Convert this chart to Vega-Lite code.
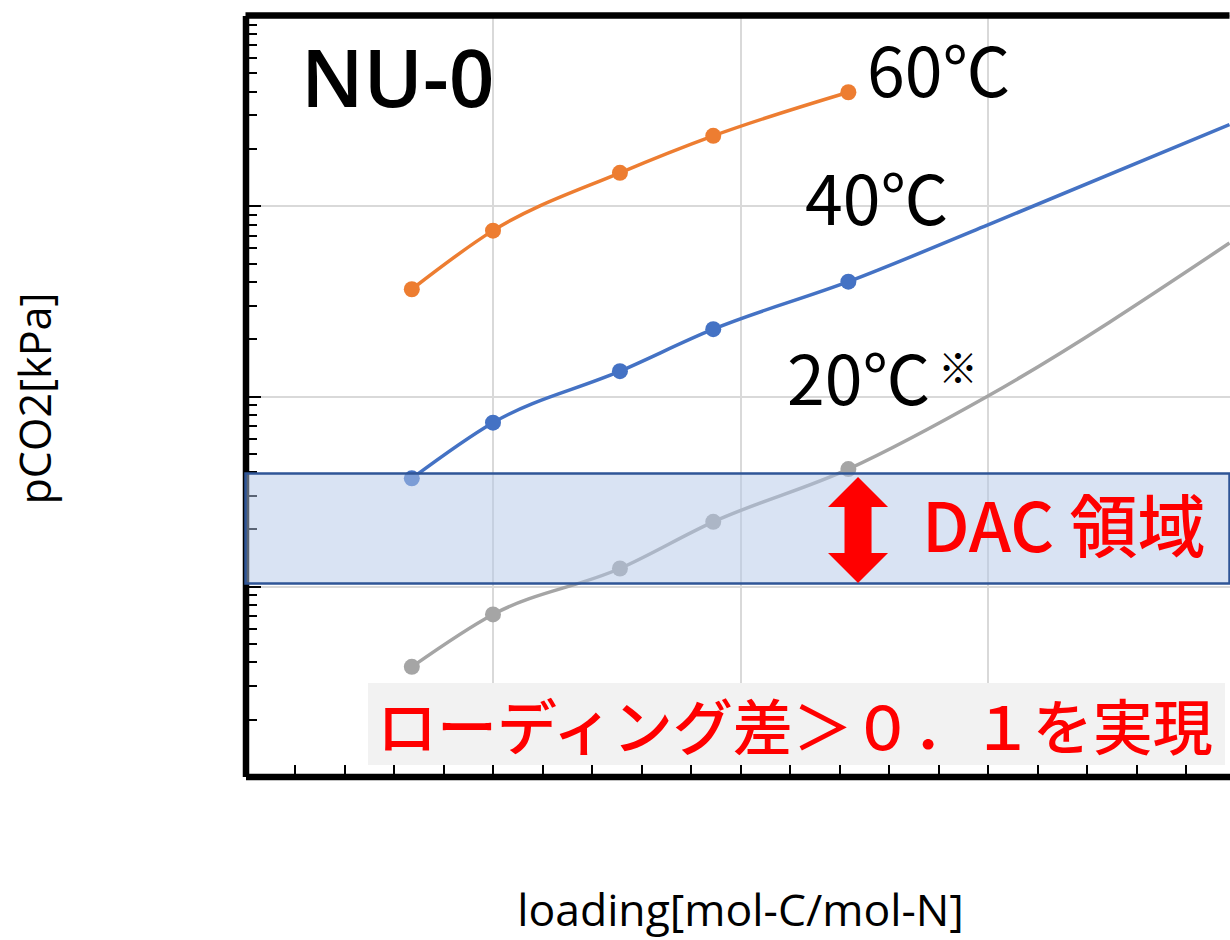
{
  "$schema": "https://vega.github.io/schema/vega-lite/v6.json",
  "autosize": {"type": "none"},
  "padding": {"left": 245.5, "top": 15.5, "right": 0, "bottom": 163.5},
  "width": 984,
  "height": 761,
  "background": "white",
  "config": {
    "view": {"stroke": null}
  },
  "datasets": {
    "curves": [
      {"series": "60", "x": 0.0672, "y": 0.364, "marker": true},
      {"series": "60", "x": 0.1, "y": 0.74, "marker": true},
      {"series": "60", "x": 0.1513, "y": 1.49, "marker": true},
      {"series": "60", "x": 0.189, "y": 2.33, "marker": true},
      {"series": "60", "x": 0.2436, "y": 3.95, "marker": true},
      {"series": "40", "x": 0.0672, "y": 0.0369, "marker": true},
      {"series": "40", "x": 0.1, "y": 0.0724, "marker": true},
      {"series": "40", "x": 0.1513, "y": 0.135, "marker": true},
      {"series": "40", "x": 0.189, "y": 0.2245, "marker": true},
      {"series": "40", "x": 0.2436, "y": 0.399, "marker": true},
      {"series": "40", "x": 0.3, "y": 0.793, "marker": false},
      {"series": "40", "x": 0.3976, "y": 2.67, "marker": false},
      {"series": "20", "x": 0.0672, "y": 0.00377, "marker": true},
      {"series": "20", "x": 0.1, "y": 0.00711, "marker": true},
      {"series": "20", "x": 0.1513, "y": 0.0124, "marker": true},
      {"series": "20", "x": 0.189, "y": 0.0218, "marker": true},
      {"series": "20", "x": 0.2436, "y": 0.0413, "marker": true},
      {"series": "20", "x": 0.3, "y": 0.1, "marker": false},
      {"series": "20", "x": 0.3976, "y": 0.637, "marker": false}
    ]
  },
  "layer": [
    {
      "data": {"values": [{"x": 0.0495, "x2": 0.3958, "y": 0.0031, "y2": 0.001148}]},
      "mark": {"type": "rect", "fill": "#f2f2f2"},
      "encoding": {
        "x": {
          "field": "x", "type": "quantitative",
          "scale": {"domain": [0, 0.3976], "nice": false, "zero": false},
          "axis": {
            "title": "loading[mol-C/mol-N]",
            "titleFont": "Open Sans", "titleFontSize": 44.5, "titleFontWeight": "normal", "titleColor": "black",
            "titleX": 494.5, "titleY": 148.5, "titleAlign": "center", "titleBaseline": "alphabetic",
            "values": [0, 0.02, 0.04, 0.06, 0.08, 0.1, 0.12, 0.14, 0.16, 0.18, 0.2, 0.22, 0.24, 0.26, 0.28, 0.3, 0.32, 0.34, 0.36, 0.38],
            "labels": false,
            "domain": true, "domainColor": "black", "domainWidth": 6.5,
            "ticks": true, "tickColor": "black", "tickWidth": 2,
            "tickSize": {"condition": {"test": "abs(datum.value*10 - round(datum.value*10)) < 0.001", "value": -16}, "value": -12},
            "grid": true, "gridColor": "#d9d9d9", "gridWidth": 2,
            "gridOpacity": {"condition": {"test": "abs(datum.value*10 - round(datum.value*10)) < 0.001", "value": 1}, "value": 0}
          }
        },
        "x2": {"field": "x2"},
        "y": {
          "field": "y", "type": "quantitative",
          "scale": {"type": "log", "domain": [0.001, 10], "nice": false},
          "axis": {
            "title": "pCO2[kPa]",
            "titleFont": "Open Sans", "titleFontSize": 43, "titleFontWeight": "normal", "titleColor": "black",
            "titleX": -195.5, "titleY": 382.5, "titleAlign": "center", "titleBaseline": "alphabetic", "titleAngle": 270,
            "values": [0.001, 0.002, 0.003, 0.004, 0.005, 0.006, 0.007, 0.008, 0.009, 0.01, 0.02, 0.03, 0.04, 0.05, 0.06, 0.07, 0.08, 0.09, 0.1, 0.2, 0.3, 0.4, 0.5, 0.6, 0.7, 0.8, 0.9, 1, 2, 3, 4, 5, 6, 7, 8, 9, 10],
            "labels": false,
            "domain": true, "domainColor": "black", "domainWidth": 6.5,
            "ticks": true, "tickColor": "black", "tickWidth": 2,
            "tickSize": {"condition": {"test": "abs(log(datum.value)/LN10 - round(log(datum.value)/LN10)) < 0.001", "value": -15}, "value": -11},
            "grid": true, "gridColor": "#d9d9d9", "gridWidth": 2,
            "gridOpacity": {"condition": {"test": "abs(log(datum.value)/LN10 - round(log(datum.value)/LN10)) < 0.001", "value": 1}, "value": 0}
          }
        },
        "y2": {"field": "y2"}
      }
    },
    {
      "data": {"name": "curves"},
      "mark": {"type": "line", "interpolate": "monotone", "strokeWidth": 3.5},
      "encoding": {
        "x": {"field": "x", "type": "quantitative"},
        "y": {"field": "y", "type": "quantitative"},
        "color": {
          "field": "series", "type": "nominal",
          "scale": {"domain": ["60", "40", "20"], "range": ["#ED7D31", "#4472C4", "#A5A5A5"]},
          "legend": null
        }
      }
    },
    {
      "data": {"name": "curves"},
      "transform": [{"filter": "datum.marker"}],
      "mark": {"type": "point", "shape": "circle", "filled": true, "size": 256, "opacity": 1},
      "encoding": {
        "x": {"field": "x", "type": "quantitative"},
        "y": {"field": "y", "type": "quantitative"},
        "color": {"field": "series", "type": "nominal", "legend": null}
      }
    },
    {
      "data": {"values": [{"x": 0, "x2": 0.3976, "y": 0.0392, "y2": 0.01035}]},
      "mark": {"type": "rect", "fill": "#b4c7e7", "fillOpacity": 0.5, "stroke": "#2f5597", "strokeWidth": 2.5},
      "encoding": {
        "x": {"field": "x", "type": "quantitative"},
        "x2": {"field": "x2"},
        "y": {"field": "y", "type": "quantitative"},
        "y2": {"field": "y2"}
      }
    },
    {
      "data": {"values": [{"x": 0.2475, "y": 0.01974}]},
      "mark": {"type": "point", "filled": true, "fill": "#ff0000", "opacity": 1, "strokeWidth": 0, "size": 11236,
        "shape": "M0,-1 L0.566,-0.434 L0.255,-0.434 L0.255,0.434 L0.566,0.434 L0,1 L-0.566,0.434 L-0.255,0.434 L-0.255,-0.434 L-0.566,-0.434 Z"},
      "encoding": {
        "x": {"field": "x", "type": "quantitative"},
        "y": {"field": "y", "type": "quantitative"}
      }
    },
    {
      "data": {"values": [{"x": 0.0224, "y": 3.31, "label": "NU-0"}]},
      "mark": {"type": "text", "font": "Open Sans", "fontSize": 80, "fontWeight": 600, "align": "left", "baseline": "alphabetic", "color": "black"},
      "encoding": {
        "x": {"field": "x", "type": "quantitative"},
        "y": {"field": "y", "type": "quantitative"},
        "text": {"field": "label"}
      }
    },
    {
      "data": {"values": [
        {"x": 0.2511, "y": 3.73, "label": "60℃"},
        {"x": 0.2261, "y": 0.793, "label": "40℃"},
        {"x": 0.2188, "y": 0.0897, "label": "20℃"}
      ]},
      "mark": {"type": "text", "font": "Noto Sans CJK JP", "fontSize": 68, "align": "left", "baseline": "alphabetic", "color": "black"},
      "encoding": {
        "x": {"field": "x", "type": "quantitative"},
        "y": {"field": "y", "type": "quantitative"},
        "text": {"field": "label"}
      }
    },
    {
      "data": {"values": [{"x": 0.2798, "y": 0.135, "label": "※"}]},
      "mark": {"type": "text", "font": "Noto Sans CJK JP", "fontSize": 40, "align": "left", "baseline": "middle", "color": "black"},
      "encoding": {
        "x": {"field": "x", "type": "quantitative"},
        "y": {"field": "y", "type": "quantitative"},
        "text": {"field": "label"}
      }
    },
    {
      "data": {"values": [{"x": 0.2733, "y": 0.01513, "label": "DAC 領域"}]},
      "mark": {"type": "text", "font": "Noto Sans CJK JP", "fontSize": 68, "fontWeight": 500, "align": "left", "baseline": "alphabetic", "color": "#ff0000"},
      "encoding": {
        "x": {"field": "x", "type": "quantitative"},
        "y": {"field": "y", "type": "quantitative"},
        "text": {"field": "label"}
      }
    },
    {
      "data": {"values": [{"x": 0.222, "y": 0.001377, "label": "ローディング差＞０．１を実現"}]},
      "mark": {"type": "text", "font": "Noto Sans CJK JP", "fontSize": 60, "fontWeight": 500, "align": "center", "baseline": "alphabetic", "color": "#ff0000"},
      "encoding": {
        "x": {"field": "x", "type": "quantitative"},
        "y": {"field": "y", "type": "quantitative"},
        "text": {"field": "label"}
      }
    },
    {
      "data": {"values": [{"y": 10}]},
      "mark": {"type": "rule", "color": "black", "strokeWidth": 6.5},
      "encoding": {
        "y": {"field": "y", "type": "quantitative"}
      }
    }
  ]
}
